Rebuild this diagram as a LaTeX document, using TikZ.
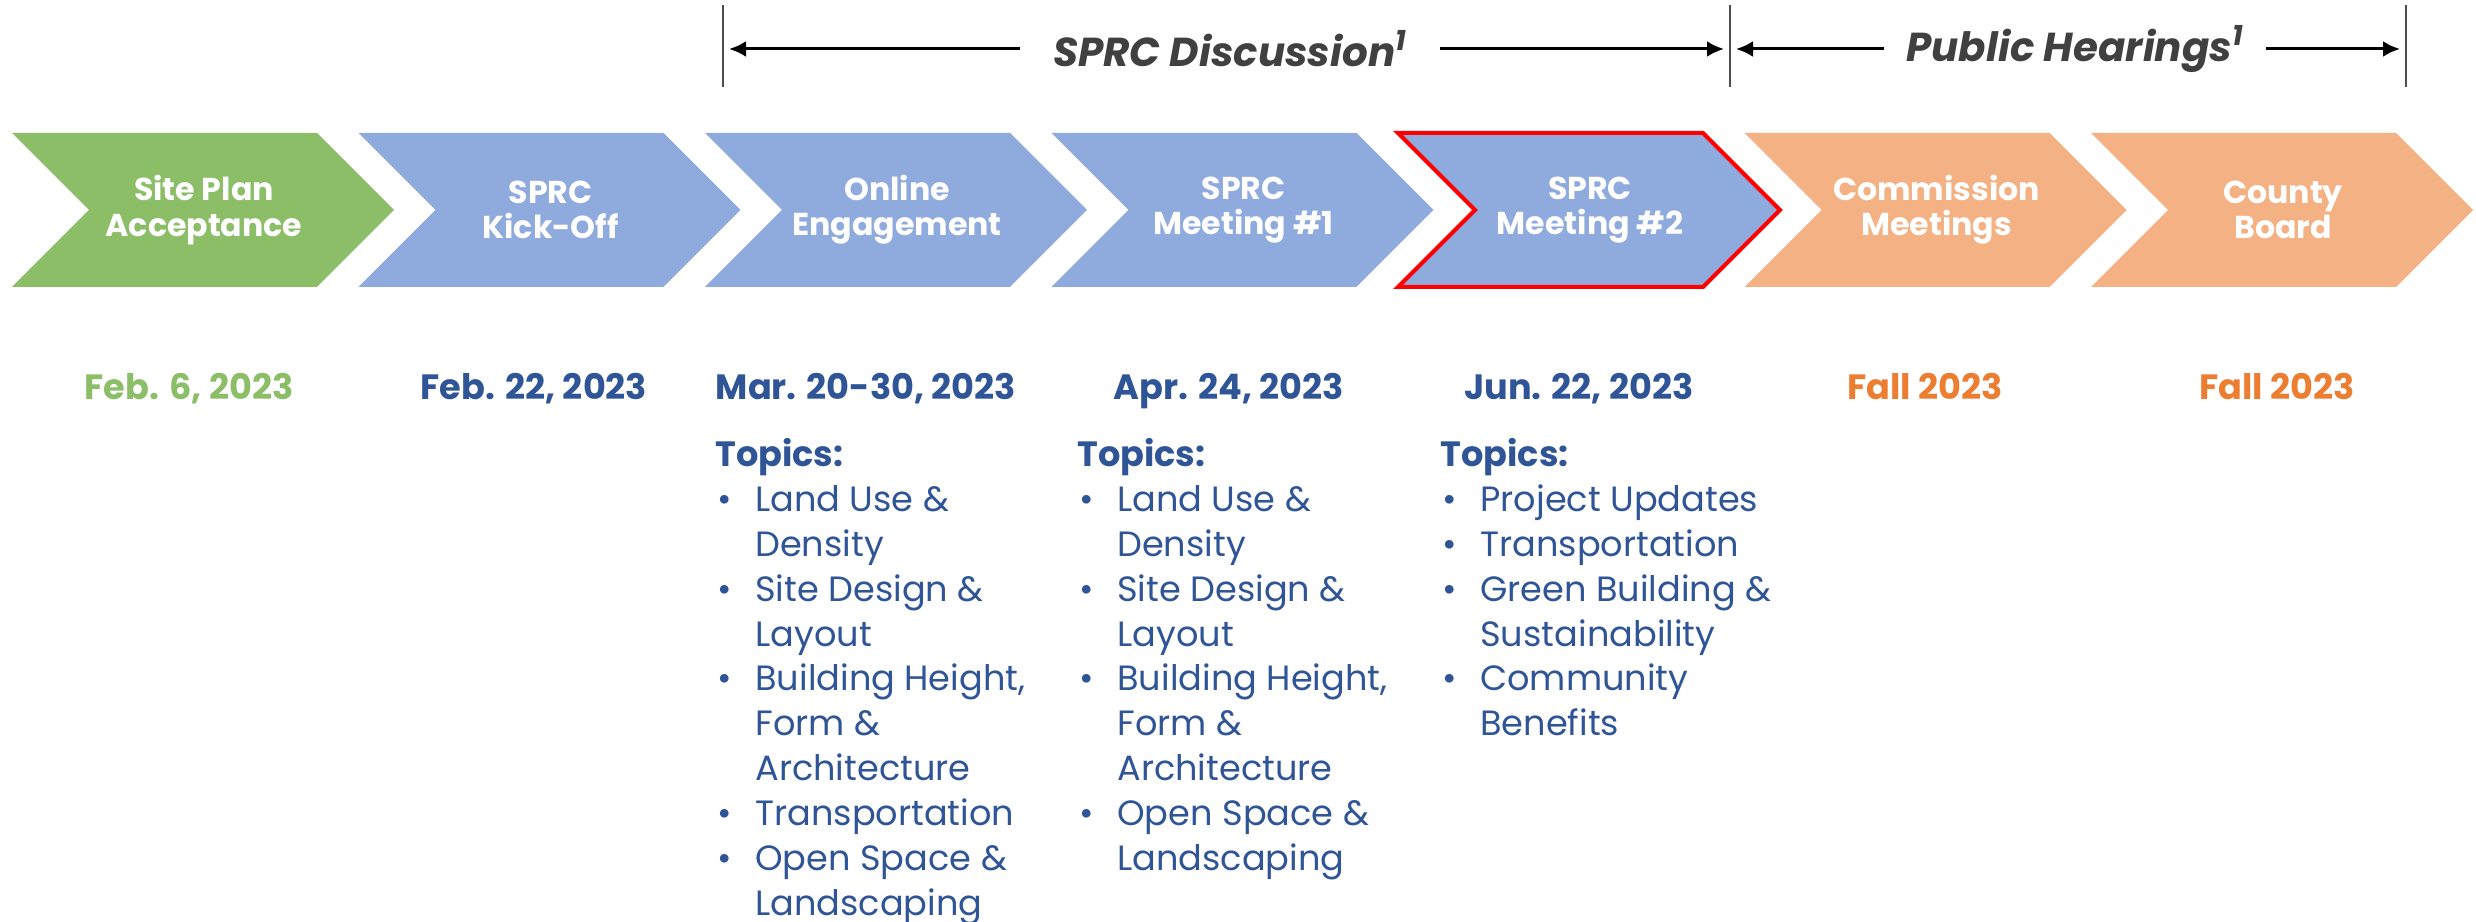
\documentclass[tikz,border=0pt]{standalone}
\usepackage{fontspec}
\setmainfont{Poppins}
\usetikzlibrary{arrows.meta}
\definecolor{stepgreen}{HTML}{8BBE67}
\definecolor{stepblue}{HTML}{8FAADC}
\definecolor{steporange}{HTML}{F4B183}
\definecolor{dateblue}{HTML}{2F5597}
\definecolor{dateorange}{HTML}{ED7D31}
\definecolor{headgray}{HTML}{404040}
\newcommand{\topicmark}{\hspace*{0.04cm}\textbullet}

\begin{document}
\begin{tikzpicture}[x=0.02cm,y=0.02cm,
    steplabel/.style={text=white,font=\bfseries\fontsize{18}{20}\selectfont,align=center,inner sep=0pt},
    datelabel/.style={font=\bfseries\fontsize{20}{24}\selectfont,inner sep=0pt,anchor=base},
    topiclist/.style={text=dateblue,font=\fontsize{20}{25.5}\selectfont,anchor=base west,inner sep=0pt},
    phase/.style={text=headgray,font=\bfseries\itshape\fontsize{23}{28}\selectfont,inner ysep=0pt},
    span/.style={line width=0.06cm,-{Latex[length=0.34cm,width=0.32cm]}},
    tick/.style={line width=0.6pt,black!70}]
\useasboundingbox (0,0) rectangle (2476,922);

\foreach \i/\col/\edge/\lineA/\lineB in {0/stepgreen/none/Site Plan/Acceptance,
    1/stepblue/none/SPRC/Kick-Off, 2/stepblue/none/Online/Engagement,
    3/stepblue/none/SPRC/Meeting \#1, 4/stepblue/red/SPRC/Meeting \#2,
    5/steporange/none/Commission/Meetings, 6/steporange/none/County/Board}
{
    \path[fill=\col,draw=\edge,line width=0.08cm] (12+346.5*\i,789) -- ++(305,0) -- ++(77,-77)
        -- ++(-77,-77) -- ++(-305,0) -- ++(77,77) -- cycle;
    \node[steplabel] (step\i) at (204+346.5*\i,712) {\lineA\\\lineB};
}

\node[datelabel,text=stepgreen] (date0) at (189,522) {Feb. 6, 2023};
\node[datelabel,text=dateblue] (date1) at (534,522) {Feb. 22, 2023};
\node[datelabel,text=dateblue] (date2) at (866,522) {Mar. 20-30, 2023};
\node[datelabel,text=dateblue] (date3) at (1229,522) {Apr. 24, 2023};
\node[datelabel,text=dateblue] (date4) at (1579,522) {Jun. 22, 2023};
\node[datelabel,text=dateorange] (date5) at (1925,522) {Fall 2023};
\node[datelabel,text=dateorange] (date6) at (2277,522) {Fall 2023};

\node[topiclist] (topics2) at (715,455)
{
    \begin{tabular}[t]{@{}p{0.8cm}@{}l@{}}
        \multicolumn{2}{@{}l@{}}{\textbf{Topics:}} \\
        \topicmark & Land Use \& \\
        & Density \\
        \topicmark & Site Design \& \\
        & Layout \\
        \topicmark & Building Height, \\
        & Form \& \\
        & Architecture \\
        \topicmark & Transportation \\
        \topicmark & Open Space \& \\
        & Landscaping \\
    \end{tabular}
};
\node[topiclist] (topics3) at (1077,455)
{
    \begin{tabular}[t]{@{}p{0.8cm}@{}l@{}}
        \multicolumn{2}{@{}l@{}}{\textbf{Topics:}} \\
        \topicmark & Land Use \& \\
        & Density \\
        \topicmark & Site Design \& \\
        & Layout \\
        \topicmark & Building Height, \\
        & Form \& \\
        & Architecture \\
        \topicmark & Open Space \& \\
        & Landscaping \\
    \end{tabular}
};
\node[topiclist] (topics4) at (1440,455)
{
    \begin{tabular}[t]{@{}p{0.8cm}@{}l@{}}
        \multicolumn{2}{@{}l@{}}{\textbf{Topics:}} \\
        \topicmark & Project Updates \\
        \topicmark & Transportation \\
        \topicmark & Green Building \& \\
        & Sustainability \\
        \topicmark & Community \\
        & Benefits \\
    \end{tabular}
};

\foreach \x in {723,1730,2406}
    \draw[tick] (\x,835) -- (\x,917);
\coordinate (discL) at (729,873);
\coordinate (discR) at (1724,873);
\coordinate (hearL) at (1736,873);
\coordinate (hearR) at (2400,873);
\node[phase,inner xsep=0.66cm] (disc) at (1230,873) {SPRC Discussion\textsuperscript{1}};
\node[phase,inner xsep=0.44cm] (hear) at (2075,873) {Public Hearings\textsuperscript{1}};
\draw[span] (disc.west) -- (discL);
\draw[span] (disc.east) -- (discR);
\draw[span] (hear.west) -- (hearL);
\draw[span] (hear.east) -- (hearR);
\end{tikzpicture}
\end{document}
